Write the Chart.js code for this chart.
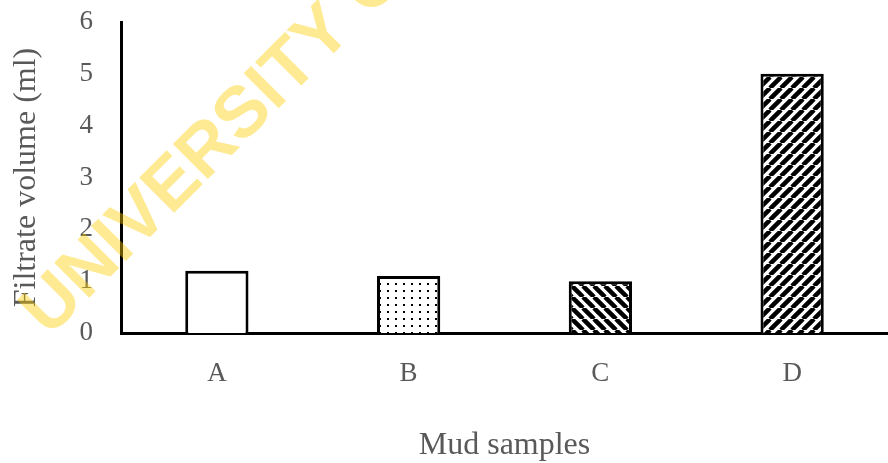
<!DOCTYPE html>
<html>
<head>
<meta charset="utf-8">
<script src="https://cdn.jsdelivr.net/npm/chart.js@4/dist/chart.umd.min.js"></script>
<style>
  html, body { margin: 0; padding: 0; background: #ffffff; }
  #wrap { width: 888px; height: 463px; }
</style>
</head>
<body>
<div id="wrap"><canvas id="chart" width="888" height="463"></canvas></div>
<script>
// Filtrate volume per mud sample
const categories = ['A', 'B', 'C', 'D'];
const filtrateVolume = [1.2, 1.1, 1.0, 5.0];
const yTickMin = 0;
const yTickMax = 6;
const yTickStep = 1;
const xAxisTitle = 'Mud samples';
const yAxisTitle = 'Filtrate volume (ml)';
const watermarkText = 'UNIVERSITY OF';

// Fill styles for each bar: plain, dotted, downward and upward diagonal hatching
function makeTile(w, h, draw) {
  const c = document.createElement('canvas');
  c.width = w; c.height = h;
  const g = c.getContext('2d');
  g.fillStyle = '#ffffff';
  g.fillRect(0, 0, w, h);
  draw(g, w, h);
  return c.getContext('2d').createPattern(c, 'repeat');
}
const plainFill = '#ffffff';
const dotFill = makeTile(8, 7, (g) => {
  g.fillStyle = '#000000';
  g.fillRect(3, 3, 2, 2);
});
function diagonal(up) {
  const s = 11;
  return makeTile(s, s, (g) => {
    g.strokeStyle = '#000000';
    g.lineWidth = 4.5;
    g.beginPath();
    for (let k = -1; k <= 1; k++) {
      if (up) { g.moveTo(k * s, s); g.lineTo(k * s + s, 0); }
      else { g.moveTo(k * s, 0); g.lineTo(k * s + s, s); }
    }
    g.stroke();
  });
}
const barFills = [plainFill, dotFill, diagonal(false), diagonal(true)];

const serif = "'Liberation Serif', 'Times New Roman', serif";
const tickFont = { family: serif, size: 27 };
const titleFont = { family: serif, size: 32, lineHeight: 1.0 };
const textColor = '#595959';

// Semi-transparent diagonal watermark drawn over the chart
const watermark = {
  id: 'watermark',
  afterDraw(chart) {
    const ctx = chart.ctx;
    ctx.save();
    ctx.globalAlpha = 0.42;
    ctx.fillStyle = 'rgb(255, 204, 0)';
    ctx.font = "bold 72px 'Liberation Sans', Arial, sans-serif";
    ctx.textAlign = 'left';
    ctx.textBaseline = 'alphabetic';
    ctx.translate(49, 338);
    ctx.rotate(-45 * Math.PI / 180);
    ctx.fillText(watermarkText, 0, 0);
    ctx.restore();
  }
};

new Chart(document.getElementById('chart'), {
  type: 'bar',
  data: {
    labels: categories,
    datasets: [{
      data: filtrateVolume,
      backgroundColor: barFills,
      borderColor: '#000000',
      borderWidth: 3,
      barPercentage: 0.33,
      categoryPercentage: 1.0
    }]
  },
  options: {
    responsive: false,
    animation: false,
    devicePixelRatio: 1,
    layout: { padding: { top: 22, left: 0, right: 0, bottom: 0 } },
    plugins: {
      legend: { display: false },
      tooltip: { enabled: false }
    },
    scales: {
      x: {
        z: 1,
        grid: { display: false, drawTicks: false },
        border: { display: true, color: '#000000', width: 3 },
        ticks: { color: textColor, font: tickFont, padding: 25 },
        title: {
          display: true, text: xAxisTitle, color: textColor, font: titleFont,
          padding: { top: 0, bottom: 1 }
        },
        afterFit(scale) {
          scale.height = 130;
          scale.paddingLeft = 0;
          scale.paddingRight = 0;
        }
      },
      y: {
        min: yTickMin,
        max: yTickMax,
        grid: { display: false, drawTicks: false },
        border: { display: true, color: '#000000', width: 3 },
        ticks: { stepSize: yTickStep, color: textColor, font: tickFont, padding: 28 },
        title: {
          display: true, text: yAxisTitle, color: textColor, font: titleFont,
          padding: { top: 11, bottom: 0 }
        },
        afterFit(scale) {
          scale.width = 121;
          scale.paddingTop = 0;
          scale.paddingBottom = 0;
        }
      }
    }
  },
  plugins: [watermark]
});
</script>
</body>
</html>
